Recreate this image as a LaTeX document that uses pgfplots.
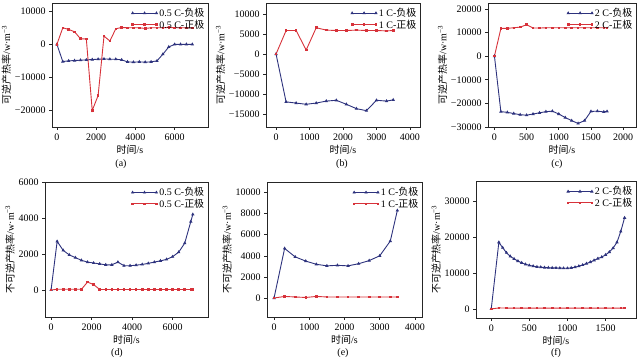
\documentclass[border=0pt]{standalone}
\usepackage{fontspec}
\setmainfont{Liberation Serif}
\newfontfamily\cjk{Noto Sans CJK SC}
\usepackage{pgfplots}
\pgfplotsset{compat=1.18}
\definecolor{cblue}{RGB}{45,50,125}
\definecolor{cred}{RGB}{215,50,58}
\newcommand{\fs}{\fontsize{10}{11}\selectfont}
\pgfplotsset{
  every axis/.append style={
    scale only axis, anchor=south west,
    axis line style={line width=0.6pt, black!85},
    tick align=outside, xtick pos=lower, ytick pos=left,
    tick style={black!85, line width=0.6pt}, major tick length=3pt,
    tick label style={font=\fs}, label style={font=\fs},
    scaled ticks=false,
    /pgf/number format/assume math mode=true,
    /pgf/number format/set thousands separator={},
    legend style={draw=none, fill=none, at={(0.99,0.975)}, anchor=north east,
      font=\fs, inner sep=0pt, row sep=-2.5pt},
    legend cell align=left,
    legend image code/.code={\draw[#1] plot coordinates {(0cm,0cm) (0.42cm,0cm) (0.84cm,0cm)};},
    xlabel={{\cjk 时间}/s},
    xlabel style={yshift=2pt},
    ylabel style={yshift=-3pt},
  },
  neg/.style={color=cblue, line width=0.9pt, mark=triangle*, mark size=1.1pt, mark options={solid}},
  pos/.style={color=cred, line width=0.9pt, mark=square*, mark size=0.8pt, mark options={solid}},
}
\newcommand{\ylA}{{\cjk 可逆产热率}/w·m\textsuperscript{−3}}
\newcommand{\ylB}{{\cjk 不可逆产热率}/w·m\textsuperscript{−3}}
\begin{document}
\begin{tikzpicture}
\path[use as bounding box] (0,0) rectangle (640bp,359bp);
% (a)
\begin{axis}[at={(52bp,232bp)}, width=156bp, height=124bp,
  xmin=-250, xmax=7700, ymin=-25000, ymax=12500,
  xtick={0,2000,4000,6000}, ytick={-20000,-10000,0,10000},
  yticklabels={−20000,−10000,0,10000}, ylabel={\ylA}]
\addplot[neg] coordinates {(0,0) (300,-5200) (600,-5000) (900,-4900) (1200,-4800) (1500,-4700) (1800,-4600) (2100,-4500) (2400,-4400) (2700,-4500) (3000,-4500) (3300,-4700) (3600,-5300) (3900,-5400) (4200,-5300) (4500,-5400) (4800,-5300) (5100,-5000) (5400,-3000) (5700,-800) (6000,0) (6300,0) (6600,0) (6900,0)};
\addlegendentry{0.5 C-{\cjk 负极}}
\addplot[pos] coordinates {(0,0) (300,5000) (600,4500) (900,3800) (1200,1700) (1500,1600) (1800,-20000) (2100,-15500) (2400,2500) (2700,1000) (3000,4700) (3300,5100) (3600,5000) (3900,5000) (4200,5000) (4500,4800) (4800,5000) (5100,5000) (5400,5000) (5700,5100) (6000,5000) (6300,5000) (6600,5000) (6900,5000)};
\addlegendentry{0.5 C-{\cjk 正极}}
\end{axis}
% (b)
\begin{axis}[at={(266bp,232bp)}, width=154bp, height=124bp,
  xmin=-300, xmax=4300, ymin=-18300, ymax=12800,
  xtick={0,1000,2000,3000,4000}, ytick={-15000,-10000,-5000,0,5000,10000},
  yticklabels={−15000,−10000,−5000,0,5000,10000}, ylabel={\ylA}]
\addplot[neg] coordinates {(0,0) (300,-12000) (600,-12300) (900,-12600) (1200,-12300) (1500,-11800) (1800,-11600) (2100,-12600) (2400,-13700) (2700,-14200) (3000,-11600) (3300,-11800) (3500,-11500)};
\addlegendentry{1 C-{\cjk 负极}}
\addplot[pos] coordinates {(0,0) (300,5900) (600,5900) (900,1000) (1200,6600) (1500,6000) (1800,5900) (2100,5900) (2400,6000) (2700,5900) (3000,5900) (3300,5800) (3500,5900)};
\addlegendentry{1 C-{\cjk 正极}}
\end{axis}
% (c)
\begin{axis}[at={(488bp,232bp)}, width=148bp, height=124bp,
  xmin=-100, xmax=2200, ymin=-30000, ymax=22500,
  xtick={0,500,1000,1500,2000}, ytick={-30000,-20000,-10000,0,10000,20000},
  yticklabels={−30000,−20000,−10000,0,10000,20000}, ylabel={\ylA}]
\addplot[neg] coordinates {(0,0) (100,-23500) (200,-23800) (300,-24300) (400,-24800) (500,-25000) (600,-24500) (700,-24000) (800,-23500) (900,-23300) (1000,-24500) (1100,-26000) (1200,-27300) (1300,-28500) (1400,-27300) (1500,-23400) (1600,-23300) (1700,-23600) (1750,-23400)};
\addlegendentry{2 C-{\cjk 负极}}
\addplot[pos] coordinates {(0,0) (100,11700) (200,11800) (300,12000) (400,12300) (500,13300) (600,11900) (700,11900) (800,12000) (900,12000) (1000,12000) (1100,12000) (1200,12000) (1300,12000) (1400,12000) (1500,12000) (1600,12000) (1700,12000) (1750,12000)};
\addlegendentry{2 C-{\cjk 正极}}
\end{axis}
% (d)
\begin{axis}[at={(45bp,42bp)}, width=163bp, height=135bp,
  xmin=-300, xmax=7750, ymin=-1500, ymax=6000,
  xtick={0,2000,4000,6000}, ytick={0,2000,4000,6000}, ylabel={\ylB}]
\addplot[neg] coordinates {(0,0) (300,2700) (600,2200) (900,1950) (1200,1800) (1500,1650) (1800,1550) (2100,1500) (2400,1450) (2700,1400) (3000,1400) (3300,1550) (3600,1350) (3900,1350) (4200,1380) (4500,1420) (4800,1480) (5100,1550) (5400,1620) (5700,1700) (6000,1850) (6300,2100) (6600,2600) (6900,3800) (7000,4200)};
\addlegendentry{0.5 C-{\cjk 负极}}
\addplot[pos] coordinates {(0,0) (300,40) (600,40) (900,40) (1200,40) (1500,40) (1800,440) (2100,300) (2400,30) (2700,30) (3000,30) (3300,30) (3600,30) (3900,30) (4200,30) (4500,30) (4800,30) (5100,30) (5400,30) (5700,30) (6000,30) (6300,30) (6600,30) (6900,30) (7000,30)};
\addlegendentry{0.5 C-{\cjk 正极}}
\end{axis}
% (e)
\begin{axis}[at={(267bp,42bp)}, width=155bp, height=135bp,
  xmin=-200, xmax=4200, ymin=-1800, ymax=11000,
  xtick={0,1000,2000,3000,4000}, ytick={0,2000,4000,6000,8000,10000}, ylabel={\ylB}]
\addplot[neg] coordinates {(0,0) (300,4700) (600,3900) (900,3500) (1200,3200) (1500,3050) (1800,3100) (2100,3050) (2400,3250) (2700,3550) (3000,4000) (3300,5400) (3500,8300)};
\addlegendentry{1 C-{\cjk 负极}}
\addplot[pos] coordinates {(0,0) (300,150) (600,100) (900,50) (1200,150) (1500,100) (1800,100) (2100,100) (2400,100) (2700,100) (3000,100) (3300,100) (3500,100)};
\addlegendentry{1 C-{\cjk 正极}}
\end{axis}
% (f)
\begin{axis}[at={(476bp,41bp)}, width=160bp, height=137bp,
  xmin=-200, xmax=1900, ymin=-2500, ymax=35500,
  xtick={0,500,1000,1500}, ytick={0,10000,20000,30000}, ylabel={\ylB}]
\addplot[neg] coordinates {(0,0) (100,18500) (150,17000) (200,15600) (250,14600) (300,13900) (350,13300) (400,12800) (450,12400) (500,12100) (550,11900) (600,11700) (650,11600) (700,11500) (750,11450) (800,11400) (850,11400) (900,11350) (950,11300) (1000,11300) (1050,11400) (1100,11600) (1150,11900) (1200,12200) (1250,12600) (1300,13000) (1350,13500) (1400,14000) (1450,14400) (1500,15000) (1550,15800) (1600,16900) (1650,18500) (1700,21500) (1750,25300)};
\addlegendentry{2 C-{\cjk 负极}}
\addplot[pos] coordinates {(0,0) (100,300) (200,250) (300,250) (400,250) (500,250) (600,250) (700,250) (800,250) (900,250) (1000,250) (1100,250) (1200,250) (1300,250) (1400,250) (1500,250) (1600,250) (1700,250) (1750,250)};
\addlegendentry{2 C-{\cjk 正极}}
\end{axis}
\node[font=\fs] at (121bp,195bp) {(a)};
\node[font=\fs] at (342bp,195bp) {(b)};
\node[font=\fs] at (557bp,195bp) {(c)};
\node[font=\fs] at (117bp,6bp) {(d)};
\node[font=\fs] at (343bp,6bp) {(e)};
\node[font=\fs] at (556bp,6bp) {(f)};
\end{tikzpicture}
\end{document}
